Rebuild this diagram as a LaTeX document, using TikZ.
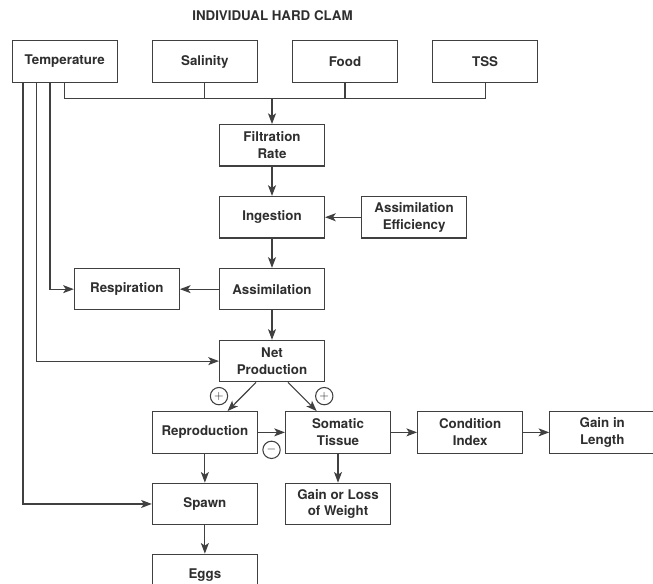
\documentclass[tikz,border=0pt]{standalone}
\usepackage{fontspec}
\setmainfont{TeX Gyre Heros}
\usetikzlibrary{positioning}
\usetikzlibrary{arrows.meta}
\definecolor{lineGray}{HTML}{404040}
\definecolor{textGray}{HTML}{2E2E2E}

\begin{document}
\begin{tikzpicture}[x=0.75pt, y=-0.75pt, inner sep=0.0pt, align=center, text=textGray,
    font=\bfseries\fontsize{10}{12.5}\selectfont]
    \pgfmathsetmacro{\boxWidth}{78.75}
    \pgfmathsetmacro{\boxHeight}{31.1}
    \tikzset{
        box/.style={rectangle, draw=lineGray, line width=0.85pt, minimum width=\boxWidth pt, minimum height=\boxHeight pt},
        flow/.style={draw=lineGray, line width=0.85pt, -{Stealth[length=8pt, width=6pt, inset=2pt]}},
        wire/.style={draw=lineGray, line width=0.85pt},
        sign/.style={circle, draw=lineGray, line width=0.8pt, minimum size=13pt, font=\fontsize{9}{9}\selectfont}
    }

    \useasboundingbox (0,0) rectangle (653,584);

    \node (title) at (272.5,16) {INDIVIDUAL HARD CLAM};

    % factors
    \node (temperature) [box] at (64.7,61.5) {Temperature};
    \node (salinity) [box, right=25.5pt of temperature] {Salinity};
    \node (food) [box, right=25.5pt of salinity] {Food};
    \node (tss) [box, right=25.5pt of food] {TSS};
    \coordinate (bus) at ([yshift=-11.5pt]temperature.south);

    % main column
    \node (filtration) [box] at (272,145.3) {Filtration\\Rate};
    \node (ingestion) [box, below=22pt of filtration] {Ingestion};
    \node (assimilation) [box, below=22pt of ingestion] {Assimilation};
    \node (netprod) [box, below=22pt of assimilation] {Net\\Production};
    \node (assimeff) [box, right=27pt of ingestion] {Assimilation\\Efficiency};
    \node (respiration) [box, left=29.25pt of assimilation] {Respiration};

    \draw [wire] (temperature.south) -- (bus) -| (tss.south);
    \draw [wire] (salinity.south) -- (salinity.south |- bus);
    \draw [wire] (food.south) -- (food.south |- bus);
    \draw [flow] (bus -| filtration) -- (filtration);

    \draw [flow] (filtration) -- (ingestion);
    \draw [flow] (ingestion) -- (assimilation);
    \draw [flow] (assimilation) -- (netprod);
    \draw [flow] (assimeff) -- (ingestion);
    \draw [flow] (assimilation) -- (respiration);

    % lower rows
    \node (somatic) [box, below=21.5pt of netprod, xshift=49.5pt] {Somatic\\Tissue};
    \node (reproduction) [box, left=20.25pt of somatic] {Reproduction};
    \node (condition) [box, right=19.5pt of somatic] {Condition\\Index};
    \node (gainlength) [box, right=19.5pt of condition] {Gain in\\Length};
    \node (spawn) [box, below=21.75pt of reproduction] {Spawn};
    \node (gainweight) [box, below=21.75pt of somatic] {Gain or Loss\\of Weight};
    \node (eggs) [box, below=21.3pt of spawn] {Eggs};

    \draw [flow] ([xshift=-12pt]netprod.south) -- ([xshift=17pt]reproduction.north);
    \draw [flow] ([xshift=12pt]netprod.south) -- ([xshift=-16pt]somatic.north);
    \node (plusRepro) [sign] at ([xshift=-39.75pt, yshift=-10.3pt]netprod.south) {$+$};
    \node (plusSomatic) [sign] at ([xshift=39.2pt, yshift=-10.3pt]netprod.south) {$+$};
    \node (minusSomatic) [sign] at ([xshift=10.2pt, yshift=-13.1pt]reproduction.east) {$-$};

    \draw [flow] (reproduction) -- (somatic);
    \draw [flow] (somatic) -- (condition);
    \draw [flow] (condition) -- (gainlength);
    \draw [flow] (somatic) -- (gainweight);
    \draw [flow] (reproduction) -- (spawn);
    \draw [flow] (spawn) -- (eggs);

    % temperature legs
    \draw [flow] ([xshift=-11pt]temperature.south) |- (respiration);
    \draw [flow] ([xshift=-21pt]temperature.south) |- (netprod);
    \draw [flow] ([xshift=-31.25pt]temperature.south) |- (spawn);
\end{tikzpicture}
\end{document}
